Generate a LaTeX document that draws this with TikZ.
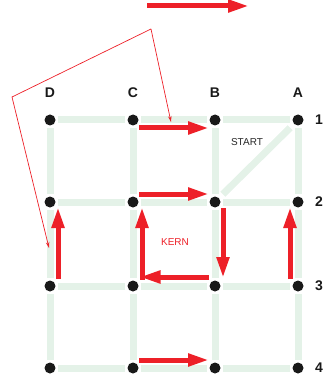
\documentclass[tikz,border=0pt]{standalone}
\usepackage{fontspec}
\setmainfont{Liberation Sans}
\usetikzlibrary{arrows.meta,calc}
\definecolor{gridgreen}{HTML}{E4F2E8}
\definecolor{arrowred}{HTML}{ED2028}
\begin{document}
\begin{tikzpicture}[x=1pt,y=-1pt,
  dot/.style={circle,fill=black!90,inner sep=0pt,minimum size=11pt},
  gridline/.style={draw=gridgreen,line width=7pt,shorten >=8pt,shorten <=8pt},
  bigarrow/.style={draw=arrowred,line width=5pt,-{Triangle[length=21pt,width=12pt]}},
  plainred/.style={draw=arrowred,line width=5pt},
  thinarrow/.style={draw=arrowred,line width=0.7pt,-{Stealth[length=6pt,width=3.5pt]}},
  collabel/.style={font=\bfseries\fontsize{14}{16}\selectfont,text=black!90},
  rowlabel/.style={font=\bfseries\fontsize{14}{16}\selectfont,text=black!90,anchor=west,inner sep=0pt},
  smalllabel/.style={font=\fontsize{10}{12}\selectfont}
]
\useasboundingbox (0,0) rectangle (325,374);
% dots
\foreach \c/\x in {D/50,C/133,B/215,A/298}{
  \foreach \r/\y in {1/120,2/202,3/286,4/368}{
    \coordinate (\c\r) at (\x,\y);
  }
}
% grid lines
\foreach \r in {1,2,3,4}{
  \draw[gridline] (D\r) -- (C\r);
  \draw[gridline] (C\r) -- (B\r);
  \draw[gridline] (B\r) -- (A\r);
}
\foreach \c in {D,C,B,A}{
  \draw[gridline] (\c1) -- (\c2);
  \draw[gridline] (\c2) -- (\c3);
  \draw[gridline] (\c3) -- (\c4);
}
\draw[gridline,shorten >=11pt,shorten <=11pt] (A1) -- (B2);
\foreach \c in {D,C,B,A}{
  \foreach \r in {1,2,3,4}{
    \node[dot] (n\c\r) at (\c\r) {};
  }
}
% labels
\node[collabel] (lD) at (50,93) {D};
\node[collabel] (lC) at (133,93) {C};
\node[collabel] (lB) at (215,93) {B};
\node[collabel] (lA) at (298,93) {A};
\node[rowlabel] (l1) at (315,120) {1};
\node[rowlabel] (l2) at (315,202) {2};
\node[rowlabel] (l3) at (315,286) {3};
\node[rowlabel] (l4) at (315,368) {4};
\node[smalllabel,text=black!85] (start) at (247,142) {START};
\node[smalllabel,text=arrowred] (kern) at (175,242) {KERN};
% red arrows
\coordinate (t0) at (147,6); \coordinate (t1) at (249,6);
\draw[bigarrow] (t0) -- (t1);
\coordinate (r1a) at (139,128); \coordinate (r1b) at (209,128);
\draw[bigarrow] (r1a) -- (r1b);
\coordinate (r2a) at (139,194); \coordinate (r2b) at (209,194);
\draw[bigarrow] (r2a) -- (r2b);
\coordinate (r4a) at (139,360); \coordinate (r4b) at (209,360);
\draw[bigarrow] (r4a) -- (r4b);
\coordinate (dUa) at (58,279); \coordinate (dUb) at (58,207);
\draw[bigarrow] (dUa) -- (dUb);
\coordinate (aUa) at (290,279); \coordinate (aUb) at (290,207);
\draw[bigarrow] (aUa) -- (aUb);
\coordinate (cUa) at (142,279.5); \coordinate (cUb) at (142,207);
\draw[bigarrow] (cUa) -- (cUb);
\coordinate (bDa) at (223,208); \coordinate (bDb) at (223,278);
\draw[bigarrow] (bDa) -- (bDb);
\coordinate (kLa) at (209,277); \coordinate (kLb) at (139.5,277);
\draw[bigarrow] (kLa) -- (kLb);
% thin polyline
\coordinate (p0) at (151,29);
\coordinate (p1) at (12,97);
\coordinate (pL) at (49,248);
\coordinate (pR) at (171,122);
\draw[thinarrow] (p0) -- (pR);
\draw[thinarrow] (p0) -- (p1) -- (pL);
\end{tikzpicture}
\end{document}
